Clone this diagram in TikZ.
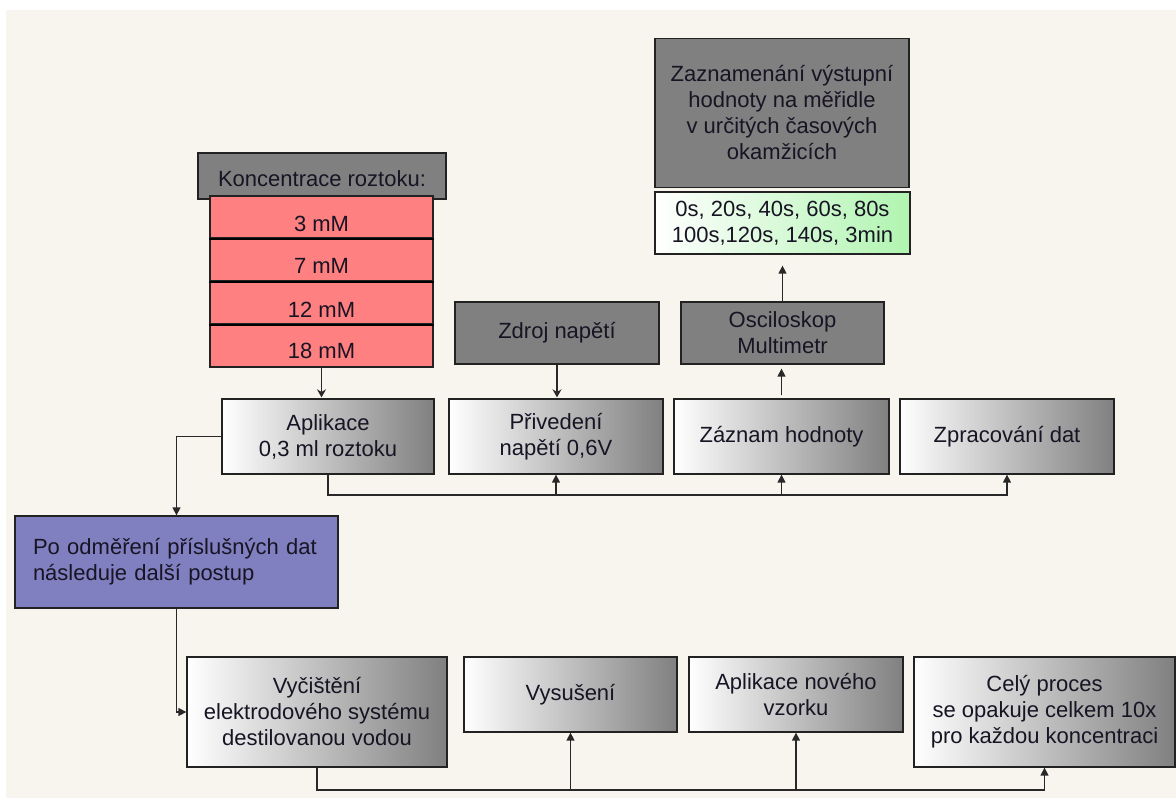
\documentclass[tikz,border=0pt]{standalone}
\usepackage{fontspec}
\setmainfont{Liberation Sans}
\usetikzlibrary{arrows.meta}
\definecolor{bgc}{RGB}{248,245,238}
\definecolor{boxgray}{RGB}{128,128,128}
\definecolor{redf}{RGB}{255,128,128}
\definecolor{purp}{RGB}{128,128,192}
\definecolor{lgreen}{RGB}{176,244,176}
\definecolor{edge}{RGB}{34,34,34}
\definecolor{txt}{RGB}{24,20,36}
\definecolor{wire}{RGB}{40,40,40}
\tikzset{
  x=1pt, y=-1pt,
  sz/.style 2 args={minimum width=#1pt, minimum height=#2pt},
  basebox/.style={draw=edge, line width=1.3pt, inner sep=2pt, align=center,
    text=txt, font=\fontsize{22}{26}\selectfont},
  gradbox/.style={basebox, left color=white, right color=boxgray},
  graybox/.style={basebox, fill=boxgray},
  redbox/.style={basebox, fill=redf},
  purpbox/.style={basebox, fill=purp},
  greenbox/.style={basebox, left color=white, right color=lgreen},
  wired/.style={draw=wire, line width=1.4pt},
  uparr/.style={wired, -{Triangle[length=8pt,width=8pt]}},
  downarr/.style={wired, -{Stealth[length=8pt,width=9pt]}},
}
\begin{document}
\begin{tikzpicture}
\useasboundingbox (0,0) rectangle (1176,805);
\fill[white] (0,0) rectangle (1176,805);
\fill[bgc] (6,10) rectangle (1176,798);

% top-left: concentrations
\node[graybox, sz={248}{46}] (konc) at (322,176) {\raisebox{-11pt}[0pt][0pt]{Koncentrace roztoku:}};
\node[redbox, sz={223}{42}] (r1) at (321.5,217) {\raisebox{-14.5pt}[0pt][0pt]{3 mM}};
\node[redbox, sz={223}{43}] (r2) at (321.5,259.5) {\raisebox{-14.5pt}[0pt][0pt]{7 mM}};
\node[redbox, sz={223}{43}] (r3) at (321.5,302.5) {\raisebox{-14.5pt}[0pt][0pt]{12 mM}};
\node[redbox, sz={223}{43}] (r4) at (321.5,345.5) {\raisebox{-13pt}[0pt][0pt]{18 mM}};
\draw[black, line width=2.2pt] (r1.south west) -- (r1.south east);
\draw[black, line width=2.2pt] (r2.south west) -- (r2.south east);
\draw[black, line width=2.2pt] (r3.south west) -- (r3.south east);

% top-right
\node[graybox, sz={254}{149}] (zazn) at (782,113) {Zaznamenání výstupní\\hodnoty na měřidle\\v určitých časových\\okamžicích};
\node[greenbox, sz={255}{62}] (times) at (782.5,223) {0s, 20s, 40s, 60s, 80s\\100s,120s, 140s, 3min};
\node[graybox, sz={204}{62}] (zdroj) at (557,333) {Zdroj napětí};
\node[graybox, sz={203}{62}] (osc) at (782.5,333) {Osciloskop\\Multimetr};

% middle row
\node[gradbox, sz={212}{75}] (apl) at (328,436.5) {Aplikace\\0,3 ml roztoku};
\node[gradbox, sz={214}{75}] (priv) at (556,436.5) {Přivedení\\napětí 0,6V};
\node[gradbox, sz={215}{75}] (zaz) at (781.5,436.5) {Záznam hodnoty};
\node[gradbox, sz={214}{75}] (zpr) at (1007,436.5) {Zpracování dat};

% purple
\node[purpbox, text width=287pt, inner xsep=18pt, align=left, minimum height=92pt] (po) at (176.5,562)
  {Po odměření příslušných dat\\následuje další postup\\[8pt]};

% bottom row
\node[gradbox, sz={260}{110}] (vyc) at (317,712) {Vyčištění\\elektrodového systému\\destilovanou vodou};
\node[gradbox, sz={213}{75}] (vys) at (570.5,694.5) {Vysušení};
\node[gradbox, sz={214}{75}] (aplnov) at (796,694.5) {Aplikace nového\\vzorku};
\node[gradbox, sz={261}{110}] (cely) at (1044.5,712) {Celý proces\\se opakuje celkem 10x\\pro každou koncentraci};

% connectors
\coordinate (busA) at (0,495);
\coordinate (busB) at (0,790);
\draw[downarr, shorten >=1pt] (r4.south) -- (r4.south |- apl.north);
\draw[downarr, shorten >=1pt] (zdroj.south) -- (zdroj.south |- priv.north);
\draw[uparr, shorten >=4pt, shorten <=3pt] (zaz.north) -- (zaz.north |- osc.south);
\draw[uparr, shorten >=11pt] (osc.north) -- (osc.north |- times.south);

\draw[uparr] (apl.south) |- (zpr.south |- busA) -- (zpr.south);
\draw[uparr] (priv.south |- busA) -- (priv.south);
\draw[uparr] (zaz.south |- busA) -- (zaz.south);

\draw[uparr] (apl.west) -| (po.north);
\draw[uparr] (po.south) |- (vyc.west);

\draw[uparr] (vyc.south) |- (cely.south |- busB) -- (cely.south);
\draw[uparr] (vys.south |- busB) -- (vys.south);
\draw[uparr] (aplnov.south |- busB) -- (aplnov.south);
\end{tikzpicture}
\end{document}
